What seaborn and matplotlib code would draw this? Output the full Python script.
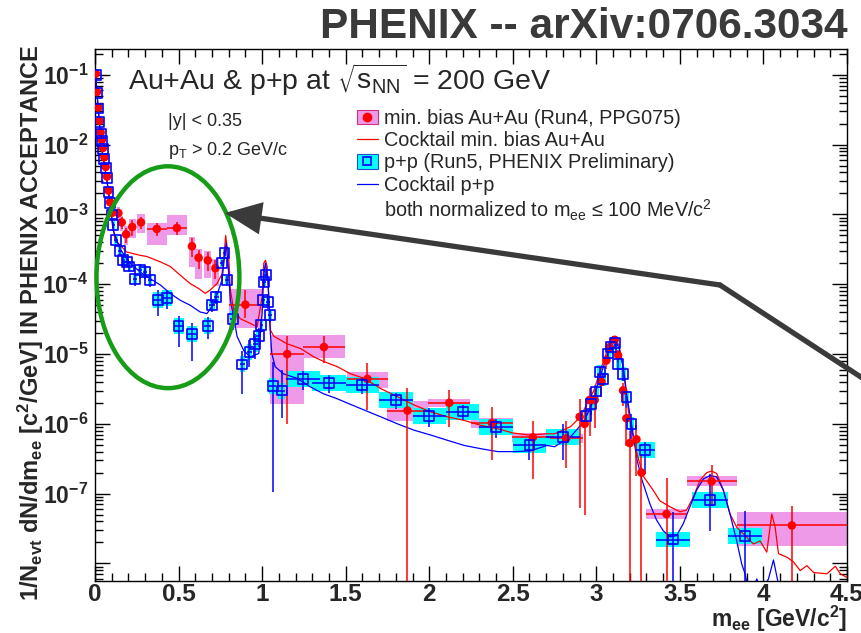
import numpy as np
import matplotlib
matplotlib.use("Agg")
import matplotlib.pyplot as plt
import seaborn as sns
from matplotlib.patches import Ellipse, Rectangle, FancyArrowPatch
from matplotlib.lines import Line2D
from matplotlib.ticker import LogLocator, MultipleLocator, FuncFormatter, NullFormatter
from matplotlib.legend_handler import HandlerTuple

# ---------------- data ----------------
# min. bias Au+Au (Run4, PPG075)
auau_m = [0.005, 0.012, 0.02, 0.027, 0.034, 0.041, 0.048, 0.056, 0.064, 0.072, 0.081, 0.09, 0.1,
          0.14, 0.16, 0.186, 0.223, 0.275, 0.37, 0.49, 0.58, 0.62, 0.675, 0.72, 0.90,
          1.15, 1.37, 1.63, 1.87, 2.12, 2.375, 2.62, 2.82,
          2.90, 2.93, 2.96, 2.99, 3.03, 3.06, 3.08, 3.11, 3.13, 3.16, 3.18, 3.20, 3.24, 3.27,
          3.42, 3.69, 4.17]
auau_y = [0.105, 0.057, 0.034, 0.022, 0.015, 0.0117, 0.009, 0.0066, 0.0048, 0.0035, 0.0022, 0.0015, 0.00105,
          1.05e-3, 7.7e-4, 5.2e-4, 6.6e-4, 7.7e-4, 6.2e-4, 6.4e-4, 3.5e-4, 2.4e-4, 2.2e-4, 1.7e-4, 5.1e-5,
          1.0e-5, 1.26e-5, 4.4e-6, 1.55e-6, 2.0e-6, 1.03e-6, 6.4e-7, 6.2e-7,
          1.26e-6, 1.0e-6, 2.2e-6, 2.2e-6, 4.0e-6, 8.1e-6, 1.26e-5, 1.6e-5, 9.6e-6, 3.0e-6, 1.2e-6, 5.3e-7, 6.0e-7, 2.0e-7,
          5.1e-8, 1.5e-7, 3.5e-8]
auau_dm = [0.004] * 13 + [0.01, 0.01, 0.01, 0.02, 0.025, 0.06, 0.06, 0.02, 0.02, 0.02, 0.02, 0.1,
           0.1, 0.125, 0.125, 0.125, 0.125, 0.125, 0.125, 0.1,
           0, 0, 0, 0, 0, 0, 0, 0, 0, 0, 0, 0, 0, 0,
           0.12, 0.15, 0.33]
auau_stat_dn = [0.05] * 13 + [0.15, 0.2, 0.25, 0.25, 0.2, 0.2, 0.2, 0.3, 0.3, 0.3, 0.3, 0.35,
                0.9, 0.41, 0.64, 1.0, 0.55, 0.71, 0.75, 0.62,
                0.95, 0.95, 0.7, 0.6, 0.4, 0.25, 0.15, 0.15, 0.2, 0.4, 0.6, 1.0, 0.7, 1.0,
                1.0, 0.55, 1.0]
auau_stat_up = [0.05] * 13 + [0.15, 0.2, 0.25, 0.25, 0.2, 0.2, 0.2, 0.3, 0.3, 0.3, 0.3, 0.6,
                0.81, 0.44, 0.7, 1.14, 0.52, 0.68, 0.74, 0.8,
                0.82, 0.6, 0.5, 0.4, 0.3, 0.2, 0.15, 0.15, 0.2, 0.3, 0.4, 0.5, 0.6, 0.8,
                2.3, 0.7, 0.87]
auau_sys_dn = [0.1] * 13 + [0.2, 0.25, 0.3, 0.3, 0.3, 0.41, 0.2, 0.5, 0.5, 0.45, 0.45, 0.53,
               0.81, 0.3, 0.26, 0.28, 0.13, 0.15, 0.13, 0.13,
               0.13, 0.13, 0.13, 0.13, 0.13, 0.13, 0.13, 0.13, 0.13, 0.13, 0.13, 0.13, 0.13, 0.13,
               0.15, 0.15, 0.5]
auau_sys_up = [0.1] * 13 + [0.2, 0.25, 0.3, 0.3, 0.3, 0.23, 0.55, 0.35, 0.35, 0.35, 0.35, 0.7,
               0.86, 0.48, 0.26, 0.39, 0.15, 0.18, 0.15, 0.15,
               0.15, 0.15, 0.15, 0.15, 0.15, 0.15, 0.15, 0.15, 0.15, 0.15, 0.15, 0.15, 0.15, 0.15,
               0.18, 0.18, 0.55]

# p+p (Run5, PHENIX Preliminary)
pp_m = [0.005, 0.012, 0.02, 0.027, 0.034, 0.041, 0.048, 0.056, 0.064, 0.072, 0.081, 0.09, 0.1,
        0.11, 0.126, 0.15, 0.17, 0.19, 0.205, 0.24, 0.27, 0.30, 0.33, 0.375, 0.43, 0.50, 0.58, 0.675,
        0.70, 0.725, 0.76, 0.775, 0.79, 0.825, 0.88, 0.924, 0.958, 0.98, 0.995, 1.005, 1.012, 1.022,
        1.035, 1.048, 1.064, 1.118, 1.244, 1.40, 1.60, 1.80, 2.0, 2.2, 2.4, 2.6, 2.8,
        2.94, 2.97, 3.0, 3.02, 3.04, 3.07, 3.09, 3.11, 3.13, 3.16, 3.18, 3.21, 3.29,
        3.46, 3.68, 3.89]
pp_y = [0.1, 0.055, 0.033, 0.021, 0.0145, 0.0112, 0.0086, 0.0063, 0.0046, 0.0033, 0.0021, 0.00145, 0.001,
        7.1e-4, 4.3e-4, 3.0e-4, 2.2e-4, 2.1e-4, 1.8e-4, 1.2e-4, 1.6e-4, 1.5e-4, 1.15e-4, 6.0e-5, 6.3e-5,
        2.5e-5, 1.96e-5, 2.5e-5,
        5.0e-5, 6.6e-5, 2.0e-4, 2.8e-4, 1.15e-4, 3.2e-5, 7.1e-6, 1.07e-5, 1.4e-5, 1.8e-5, 2.6e-5, 5.9e-5,
        1.07e-4, 1.35e-4, 5.6e-5, 3.6e-5, 3.5e-6, 3.0e-6, 4.4e-6, 3.9e-6, 3.6e-6, 2.2e-6, 1.28e-6,
        1.5e-6, 8.9e-7, 5.0e-7, 6.4e-7,
        1.3e-6, 1.9e-6, 2.9e-6, 5.5e-6, 4.4e-6, 1.02e-5, 1.25e-5, 1.45e-5, 7.3e-6, 5.2e-6, 2.4e-6,
        1.0e-6, 4.2e-7, 2.2e-8, 8.1e-8, 2.5e-8]
pp_dm = [0.004] * 13 + [0.01] * 10 + [0.03, 0.03, 0.03, 0.03, 0.02,
         0.02, 0.015, 0.01, 0.01, 0.01, 0.015, 0.015, 0.015, 0.015, 0.015, 0.01, 0.01, 0.01, 0.01,
         0.01, 0.01, 0.02, 0.02, 0.1, 0.1, 0.1, 0.1, 0.1, 0.1, 0.1, 0.1, 0.1,
         0, 0, 0, 0, 0, 0, 0, 0, 0, 0, 0, 0, 0.06,
         0.1, 0.11, 0.1]
pp_stat_dn = [0.05] * 13 + [0.1, 0.1, 0.15, 0.15, 0.15, 0.15, 0.2, 0.2, 0.2, 0.2, 0.41, 0.3, 0.5, 0.6, 0.35,
              0.2, 0.2, 0.1, 0.1, 0.15, 0.3, 0.62, 0.4, 0.4, 0.3, 0.2, 0.2, 0.15, 0.15,
              0.2, 0.2, 0.97, 0.59, 0.3, 0.3, 0.25, 0.25, 0.3, 0.25, 0.3, 0.4, 0.53,
              0.3, 0.3, 0.2, 0.2, 0.2, 0.15, 0.15, 0.15, 0.2, 0.2, 0.3, 0.4, 0.55,
              1.0, 0.64, 0.95]
pp_stat_up = [0.05] * 13 + [0.1, 0.1, 0.15, 0.15, 0.15, 0.15, 0.2, 0.2, 0.2, 0.2, 0.4, 0.3, 0.4, 0.4, 0.35,
              0.2, 0.2, 0.1, 0.1, 0.15, 0.3, 0.58, 0.48, 0.4, 0.3, 0.2, 0.2, 0.15, 0.15,
              0.2, 0.2, 1.2, 0.94, 0.3, 0.3, 0.25, 0.25, 0.3, 0.25, 0.3, 0.2, 0.55,
              0.3, 0.3, 0.2, 0.2, 0.2, 0.15, 0.15, 0.15, 0.2, 0.2, 0.3, 0.4, 0.3,
              1.5, 1.35, 1.28]
pp_sys = [0.1] * 13 + [0.15, 0.15] + [0.2] * 8 + [0.3] * 5 + [0.2, 0.2, 0.15, 0.15, 0.15, 0.3,
          0.3, 0.3, 0.3, 0.25, 0.2, 0.2, 0.15, 0.15, 0.2, 0.2, 0.3, 0.3, 0.3, 0.3,
          0.3, 0.3, 0.3, 0.3, 0.3, 0.3, 0.3,
          0.25, 0.25, 0.25, 0.25, 0.25, 0.25, 0.25, 0.25, 0.25, 0.25, 0.25, 0.25, 0.3,
          0.3, 0.3, 0.3]

# hadronic cocktails
ck_auau_m = [0.005, 0.01, 0.02, 0.03, 0.04, 0.05, 0.06, 0.07, 0.08, 0.09, 0.10, 0.12, 0.19, 0.27, 0.31,
             0.39, 0.45, 0.51, 0.57, 0.62, 0.66, 0.69, 0.73, 0.76, 0.775, 0.782, 0.79, 0.80, 0.81, 0.83,
             0.87, 0.93, 0.97, 1.0, 1.01, 1.02, 1.03, 1.04, 1.05, 1.07, 1.15, 1.23, 1.31, 1.37, 1.45,
             1.53, 1.61, 1.71, 1.81, 1.91, 2.01, 2.11, 2.21, 2.31, 2.41, 2.50, 2.60, 2.70, 2.75, 2.845,
             2.905, 2.945, 2.985, 3.025, 3.065, 3.095, 3.114, 3.134, 3.154, 3.174, 3.194, 3.224, 3.254,
             3.284, 3.34, 3.38, 3.44, 3.50, 3.54, 3.58, 3.62, 3.66, 3.69, 3.72, 3.76, 3.80, 3.84, 3.89,
             3.94, 3.98, 4.02, 4.05, 4.07, 4.09, 4.14, 4.18, 4.22, 4.26, 4.30, 4.38, 4.43, 4.46, 4.5]
ck_auau_y = [9.5e-2, 6.3e-2, 3.2e-2, 1.6e-2, 8.9e-3, 6.3e-3, 4.5e-3, 3.2e-3, 2.2e-3, 1.4e-3, 8.9e-4, 4.3e-4,
             2.9e-4, 2.6e-4, 2.5e-4, 2.1e-4, 1.8e-4, 1.35e-4, 1.02e-4, 8.7e-5, 7.4e-5, 8.3e-5, 1.02e-4,
             1.4e-4, 3.1e-4, 5.0e-4, 3.5e-4, 2.5e-4, 8.3e-5, 4.3e-5, 3.2e-5, 2.75e-5, 2.45e-5, 6.6e-5,
             2.0e-4, 2.2e-4, 1.8e-4, 6.6e-5, 2.2e-5, 1.8e-5, 1.4e-5, 1.2e-5, 9.1e-6, 7.8e-6, 6.6e-6,
             5.2e-6, 4.5e-6, 3.2e-6, 2.45e-6, 1.86e-6, 1.48e-6, 1.26e-6, 1.12e-6, 9.5e-7, 8.5e-7, 7.4e-7,
             6.9e-7, 7.2e-7, 7.2e-7, 9.1e-7, 1.26e-6, 1.95e-6, 3.0e-6, 5.9e-6, 1.12e-5, 1.58e-5, 1.66e-5,
             1.35e-5, 8.1e-6, 3.4e-6, 1.41e-6, 5.8e-7, 3.0e-7, 1.74e-7, 1.12e-7, 7.9e-8, 6.5e-8, 5.5e-8,
             5.8e-8, 8.9e-8, 1.55e-7, 2.0e-7, 2.1e-7, 1.95e-7, 1.12e-7, 5.1e-8, 3.3e-8, 2.5e-8, 1.9e-8,
             2.1e-8, 1.45e-8, 5.1e-8, 3.3e-8, 1.38e-8, 1.23e-8, 1.05e-8, 7.9e-9, 9.3e-9, 7.4e-9, 7.1e-9,
             9.1e-9, 7.1e-9, 6.3e-9]
ck_pp_m = [0.005, 0.01, 0.02, 0.03, 0.04, 0.05, 0.06, 0.07, 0.08, 0.09, 0.10, 0.108, 0.15, 0.21, 0.27,
           0.33, 0.39, 0.45, 0.51, 0.57, 0.63, 0.67, 0.71, 0.74, 0.76, 0.775, 0.785, 0.797, 0.81, 0.83,
           0.85, 0.89, 0.93, 0.98, 1.0, 1.01, 1.02, 1.035, 1.048, 1.058, 1.078, 1.128, 1.208, 1.287,
           1.367, 1.447, 1.507, 1.61, 1.71, 1.81, 1.91, 2.01, 2.11, 2.21, 2.31, 2.41, 2.51, 2.605,
           2.705, 2.75, 2.845, 2.925, 2.975, 3.015, 3.055, 3.095, 3.114, 3.14, 3.164, 3.184, 3.214,
           3.244, 3.274, 3.32, 3.36, 3.40, 3.44, 3.48, 3.52, 3.56, 3.60, 3.64, 3.68, 3.72, 3.76, 3.80,
           3.84, 3.87, 3.89, 3.92, 3.96, 3.99, 4.03, 4.06, 4.09, 4.12, 4.5]
ck_pp_y = [9.5e-2, 6.3e-2, 3.2e-2, 1.6e-2, 8.9e-3, 6.3e-3, 4.5e-3, 3.2e-3, 2.2e-3, 1.4e-3, 8.9e-4, 6.0e-4,
           3.2e-4, 2.0e-4, 1.5e-4, 1.2e-4, 9.8e-5, 7.4e-5, 5.9e-5, 5.0e-5, 4.0e-5, 3.8e-5, 5.2e-5, 8.3e-5,
           1.15e-4, 2.45e-4, 3.9e-4, 1.8e-4, 5.9e-5, 3.4e-5, 1.8e-5, 1.12e-5, 9.1e-6, 1.02e-5, 3.8e-5,
           1.4e-4, 2.0e-4, 1.15e-4, 2.2e-5, 1.02e-5, 6.6e-6, 5.2e-6, 4.5e-6, 3.4e-6, 2.7e-6, 2.3e-6,
           2.0e-6, 1.58e-6, 1.26e-6, 1.0e-6, 8.1e-7, 6.9e-7, 5.8e-7, 4.9e-7, 4.4e-7, 4.0e-7, 4.0e-7,
           4.1e-7, 4.9e-7, 4.7e-7, 6.5e-7, 1.07e-6, 1.95e-6, 4.2e-6, 8.1e-6, 1.48e-5, 1.62e-5, 1.12e-5,
           5.9e-6, 2.4e-6, 8.9e-7, 3.0e-7, 1.55e-7, 7.2e-8, 4.2e-8, 2.95e-8, 2.4e-8, 2.5e-8, 3.7e-8,
           6.5e-8, 1.12e-7, 1.62e-7, 1.82e-7, 1.74e-7, 1.12e-7, 5.1e-8, 2.1e-8, 9.8e-9, 7.1e-9, 3.2e-9,
           6.0e-9, 4.0e-9, 6.0e-9, 1.12e-8, 5.0e-9, 2.5e-9, 2.5e-9]

x_ticks = [0, 0.5, 1, 1.5, 2, 2.5, 3, 3.5, 4, 4.5]
x_ticklabels = ["0", "0.5", "1", "1.5", "2", "2.5", "3", "3.5", "4", "4.5"]

# ---------------- style ----------------
sns.set_style("ticks")
plt.rcParams["font.family"] = ["Liberation Sans", "DejaVu Sans"]
plt.rcParams["mathtext.default"] = "regular"

PINK = "#ee9ae8"
CYAN = "#00ffff"
RED = "#ff0000"
BLUE = "#0000ff"

fig = plt.figure(figsize=(8.62, 6.33), dpi=100)
ax = fig.add_axes([95 / 862, 52 / 633, 752 / 862, 532 / 633])


def bounds(y, dn, up):
    y = np.asarray(y, float)
    lo = y * (1 - np.asarray(dn, float))
    lo = np.where(lo <= 0, 1e-12, lo)
    hi = y * (1 + np.asarray(up, float))
    return lo, hi


# systematic boxes
a_m = np.asarray(auau_m)
a_y = np.asarray(auau_y)
a_dm = np.asarray(auau_dm)
a_blo, a_bhi = bounds(a_y, auau_sys_dn, auau_sys_up)
a_bw = np.where(a_dm > 0, 2 * a_dm, 0.02)
ax.bar(a_m, a_bhi - a_blo, bottom=a_blo, width=a_bw, color=PINK, edgecolor="none", zorder=1)

p_m = np.asarray(pp_m)
p_y = np.asarray(pp_y)
p_dm = np.asarray(pp_dm)
p_blo, p_bhi = bounds(p_y, np.asarray(pp_sys) / (1 + np.asarray(pp_sys)), pp_sys)
p_bw = np.where(p_dm > 0, 2 * p_dm, 0.03)
ax.bar(p_m, p_bhi - p_blo, bottom=p_blo, width=p_bw, color=CYAN, edgecolor="none", zorder=2)

# cocktails
sns.lineplot(x=ck_auau_m, y=ck_auau_y, color=RED, lw=0.9, ax=ax, zorder=3, estimator=None, sort=False)
sns.lineplot(x=ck_pp_m, y=ck_pp_y, color=BLUE, lw=0.9, ax=ax, zorder=3, estimator=None, sort=False)

# statistical errors
a_slo, a_shi = bounds(a_y, auau_stat_dn, auau_stat_up)
ax.errorbar(a_m, a_y, yerr=[a_y - a_slo, a_shi - a_y], xerr=a_dm, fmt="none",
            ecolor=RED, elinewidth=1.1, capsize=0, zorder=4)
p_slo, p_shi = bounds(p_y, pp_stat_dn, pp_stat_up)
ax.errorbar(p_m, p_y, yerr=[p_y - p_slo, p_shi - p_y], xerr=p_dm, fmt="none",
            ecolor=BLUE, elinewidth=1.1, capsize=0, zorder=5)

# markers
sns.scatterplot(x=auau_m, y=auau_y, marker="o", s=38, color=RED, edgecolor="none",
                ax=ax, zorder=6, legend=False)
sns.scatterplot(x=pp_m, y=pp_y, marker="s", s=50, color=BLUE, facecolor="none",
                edgecolor=BLUE, linewidth=1.2, ax=ax, zorder=7, legend=False)

# axes
ax.set_yscale("log")
ax.set_xlim(0, 4.5)
ax.set_ylim(5.6e-9, 0.235)
ax.set_xticks(x_ticks)
ax.set_xticklabels(x_ticklabels)
ax.xaxis.set_minor_locator(MultipleLocator(0.1))
ax.yaxis.set_major_locator(LogLocator(base=10, numticks=20))
ax.yaxis.set_minor_locator(LogLocator(base=10, subs=np.arange(2, 10), numticks=20))
ax.yaxis.set_minor_formatter(NullFormatter())


def ylab(v, pos):
    e = int(round(np.log10(v)))
    if e < -7 or e > -1:
        return ""
    return r"$10^{%d}$" % e


ax.yaxis.set_major_formatter(FuncFormatter(ylab))
ax.tick_params(axis="both", which="both", direction="in", top=True, right=True, width=1, color="black")
ax.tick_params(axis="both", which="major", length=11)
ax.tick_params(axis="both", which="minor", length=6)
ax.tick_params(axis="x", which="major", labelsize=17.5, pad=1.5)
ax.tick_params(axis="y", which="major", labelsize=16.5, pad=5)
for lab in ax.get_xticklabels() + ax.get_yticklabels():
    lab.set_fontweight("bold")
for sp in ax.spines.values():
    sp.set_linewidth(1.0)
    sp.set_color("black")

ax.set_xlabel(r"m$_{ee}$ [GeV/c$^{2}$]", fontsize=16.5, fontweight="bold", ha="right")
ax.xaxis.set_label_coords(1.0, -0.072)
ax.xaxis.label.set_va("center")
ax.set_ylabel(r"1/N$_{evt}$ dN/dm$_{ee}$ [c$^{2}$/GeV] IN PHENIX ACCEPTANCE",
              fontsize=17, fontweight="bold")
ax.yaxis.set_label_coords(-0.085, 1.008)
ax.yaxis.label.set_ha("right")
ax.yaxis.label.set_va("center")

# annotations inside the frame
ax.text(0.044, 0.942, r"Au+Au & p+p at $\sqrt{s_{NN}}$ = 200 GeV", transform=ax.transAxes,
        fontsize=20.5, ha="left", va="center", zorder=9)
ax.text(0.097, 0.863, "|y| < 0.35", transform=ax.transAxes, fontsize=13, ha="left", va="center")
ax.text(0.097, 0.810, r"p$_{T}$ > 0.2 GeV/c", transform=ax.transAxes, fontsize=13, ha="left", va="center")

# legend
h_auau = (Rectangle((0, 0), 1, 1, facecolor=PINK, edgecolor="#d0307a", lw=0.8),
          Line2D([], [], ls="none", marker="o", color=RED, ms=6))
h_ckau = Line2D([], [], color=RED, lw=0.9)
h_pp = (Rectangle((0, 0), 1, 1, facecolor=CYAN, edgecolor="#2050d0", lw=0.8),
        Line2D([], [], ls="none", marker="s", mfc="none", mec=BLUE, ms=6, mew=1.2))
h_ckpp = Line2D([], [], color=BLUE, lw=0.9)
h_note = Line2D([], [], ls="none")
leg = ax.legend([h_auau, h_ckau, h_pp, h_ckpp, h_note],
                ["min. bias Au+Au (Run4, PPG075)", "Cocktail min. bias Au+Au",
                 "p+p (Run5, PHENIX Preliminary)", "Cocktail p+p",
                 r"both normalized to m$_{ee}$ ≤ 100 MeV/c$^{2}$"],
                handler_map={tuple: HandlerTuple(ndivide=1, pad=0)},
                loc="upper left", bbox_to_anchor=(0.348, 0.887), frameon=False,
                fontsize=14.3, handlelength=1.05, handleheight=0.75, handletextpad=0.3,
                labelspacing=0.16, borderpad=0, borderaxespad=0)
leg.set_zorder(9)

# highlighted low-mass region
ax.add_patch(Ellipse((0.097, 0.571), 0.190, 0.417, transform=ax.transAxes, fill=False,
                     edgecolor="#169c16", lw=3.2, zorder=10, clip_on=False))

# pointer arrow
W, H = 862.0, 633.0
fig.add_artist(Line2D([870 / W, 720 / W], [1 - 383 / H, 1 - 285 / H], color="#3a3a3a", lw=3.8,
                      solid_capstyle="round", transform=fig.transFigure))
fig.add_artist(FancyArrowPatch((720 / W, 1 - 285 / H), (225 / W, 1 - 213 / H),
                               transform=fig.transFigure, arrowstyle="-|>,head_length=0.9,head_width=0.4",
                               mutation_scale=22, lw=3.8, color="#3a3a3a",
                               shrinkA=0, shrinkB=0, joinstyle="miter"))

# title
fig.text(848 / W, 1 - 27 / H, "PHENIX -- arXiv:0706.3034", ha="right", va="center",
         fontsize=30.5, fontweight="bold", color="#3a3a3a")

fig.savefig("out.png", dpi=100)
